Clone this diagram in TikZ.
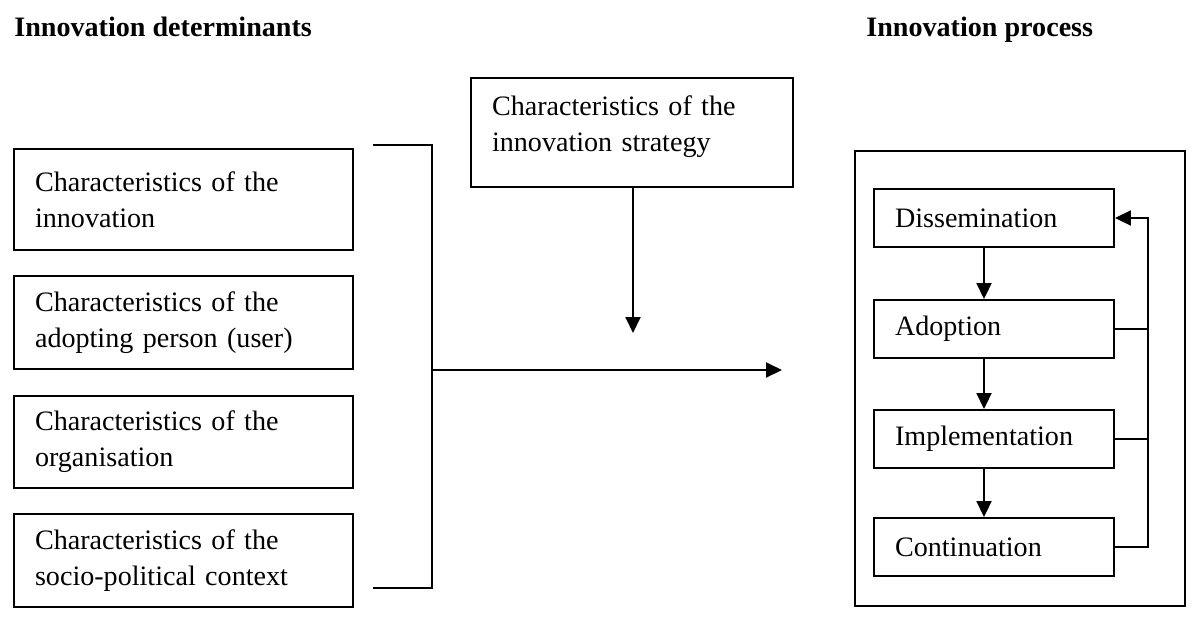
\documentclass[tikz,border=0pt]{standalone}
\usepackage{fontspec}
\setmainfont{Liberation Serif}
\usetikzlibrary{arrows.meta}

\begin{document}
\begin{tikzpicture}[x=0.02cm,y=-0.02cm,
    every node/.style={font=\fontsize{16pt}{20.5pt}\selectfont},
    detbox/.style={draw,line width=1.1pt,text width=5.94cm,inner xsep=0.42cm,inner ysep=0pt,align=left},
    stagebox/.style={draw,line width=1.1pt,text width=3.96cm,inner xsep=0.42cm,inner ysep=0pt,align=left,minimum height=1.16cm},
    heading/.style={anchor=base west,inner sep=0pt,font=\fontsize{16pt}{20.5pt}\selectfont\bfseries},
    link/.style={line width=1.1pt},
    flow/.style={line width=1.1pt,-{Triangle[length=0.32cm,width=0.3cm]}}]
    \useasboundingbox (0,0) rectangle (1200,622);

    % headings
    \node[heading] (dettitle) at (14,36) {Innovation determinants};
    \node[heading] (proctitle) at (866,36) {Innovation process};

    % the determinants
    \node[detbox,minimum height=2.02cm] (inno) at (183.5,199.5) {Characteristics of the\\innovation};
    \node[detbox,minimum height=1.86cm] (user) at (183.5,322.5) {Characteristics of the\\adopting person (user)};
    \node[detbox,minimum height=1.84cm] (orga) at (183.5,442) {Characteristics of the\\organisation};
    \node[detbox,minimum height=1.86cm] (context) at (183.5,560.5) {Characteristics of the\\socio-political context};

    % the strategy
    \node[draw,line width=1.1pt,text width=5.6cm,inner xsep=0.42cm,inner ysep=0pt,align=left,
          text depth=1.06cm,minimum height=2.18cm] (strat) at (632,132.5) {Characteristics of the\\innovation strategy};

    % bracket and main arrows
    \coordinate (btop) at (432,145);
    \coordinate (bbot) at (432,588);
    \coordinate (join) at (432,370);
    \coordinate (target) at (782,370);
    \coordinate (meet) at (633,333);
    \draw[link] (373,145) -- (btop) -- (bbot) -- (373,588);
    \draw[flow] (join) -- (target);
    \draw[flow] (strat.south -| meet) -- (meet);

    % the process
    \node[draw,line width=1.1pt,minimum width=6.6cm,minimum height=9.1cm] (proc) at (1020,378.5) {};
    \node[stagebox] (diss) at (994,218) {Dissemination};
    \node[stagebox] (adop) at (994,329) {Adoption};
    \node[stagebox] (impl) at (994,439) {Implementation};
    \node[stagebox] (cont) at (994,547) {Continuation};

    \coordinate (axis) at (984,0);
    \coordinate (loop) at (1148,0);
    \draw[flow] (diss.south -| axis) -- (adop.north -| axis);
    \draw[flow] (adop.south -| axis) -- (impl.north -| axis);
    \draw[flow] (impl.south -| axis) -- (cont.north -| axis);

    % feedback
    \draw[flow] (cont.east) -- (cont.east -| loop) |- (diss.east);
    \draw[link] (adop.east) -- (adop.east -| loop);
    \draw[link] (impl.east) -- (impl.east -| loop);
\end{tikzpicture}
\end{document}
